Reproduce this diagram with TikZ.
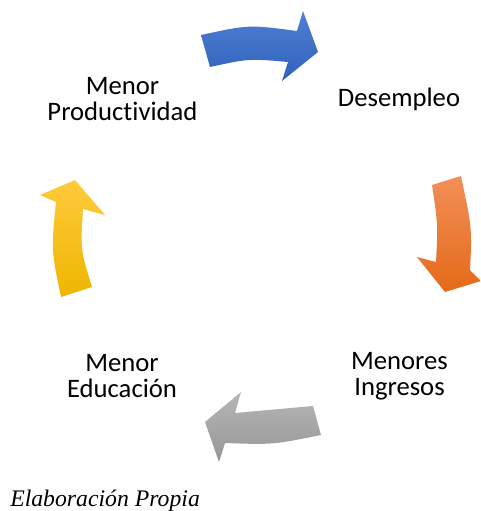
\documentclass[tikz,border=0pt]{standalone}
\usepackage{fontspec}
\setmainfont{Carlito}[Ligatures=NoCommon]
\newfontfamily\capfont{Liberation Serif}
\begin{document}
\begin{tikzpicture}[x=0.75pt,y=-0.75pt,
  lbl/.style={inner sep=0pt,align=center,font=\fontsize{20pt}{19.8pt}\selectfont},
  arr/.style={draw=none}]
\useasboundingbox (0,0) rectangle (480,511);
% blue arrow (top)
\shade[arr,top color={rgb,255:red,80;green,128;blue,212},bottom color={rgb,255:red,48;green,98;blue,188}]
  (201,35) .. controls (249,24.6) .. (297,31) -- (303,11) -- (318,52) -- (282,81) -- (288,62)
  .. controls (249,58.5) .. (210,67) -- cycle;
% orange arrow (right)
\shade[arr,top color={rgb,255:red,242;green,143;blue,88},bottom color={rgb,255:red,228;green,106;blue,24}]
  (432,185) -- (461,176) .. controls (472,228) .. (470,270) -- (481,281) -- (445,292) -- (417,257)
  -- (436,262) .. controls (438,225) .. (432,185) -- cycle;
% gray arrow (bottom)
\shade[arr,top color={rgb,255:red,182;green,182;blue,182},bottom color={rgb,255:red,150;green,150;blue,150}]
  (313,406) .. controls (274,409.6) .. (235,413) -- (241,392) -- (205,422) -- (219,462) -- (225,443)
  .. controls (273,444.7) .. (321,435) -- cycle;
% yellow arrow (left)
\shade[arr,top color={rgb,255:red,255;green,202;blue,60},bottom color={rgb,255:red,238;green,182;blue,0}]
  (61,297) .. controls (51.2,250) .. (56,202) -- (40,195) -- (75,180) -- (105,215) -- (83,209)
  .. controls (80.5,250) .. (92,287) -- cycle;
% labels
\node[lbl,anchor=base] (des) at (399,106) {Desempleo};
\node[lbl] (prod) at (122.5,99) {Menor\\Productividad};
\node[lbl] (ing) at (399.5,376) {Menores\\Ingresos};
\node[lbl] (edu) at (122,376) {Menor\\Educación};
\node[inner sep=0pt,anchor=base west,font=\capfont\itshape\fontsize{17.8pt}{20pt}\selectfont] (cap) at (10,506) {Elaboración Propia};
\end{tikzpicture}
\end{document}
